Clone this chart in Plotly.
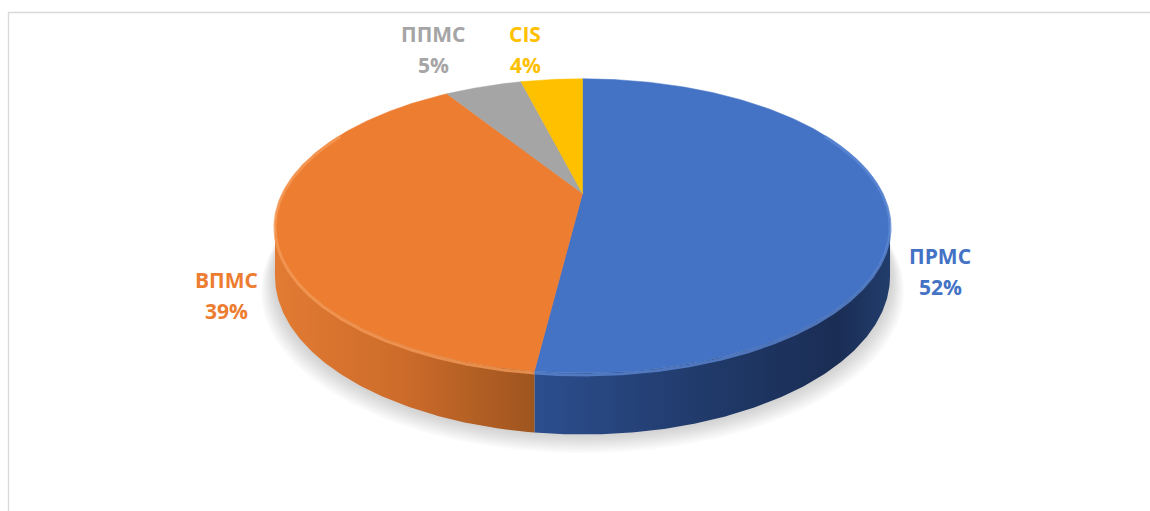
import numpy as np
import plotly.graph_objects as go

# Data
categories = ["ПРМС", "ВПМС", "ППМС", "CIS"]
shares = [52, 39, 5, 4]

# Styling
top_colors = ["#4472C4", "#ED7D31", "#A5A5A5", "#FFC000"]
rim_colors = ["#5B87D3", "#F59A57", "#B8B8B8", "#FFD04D"]
side_scales = [
    [[0, "#2C4E8E"], [0.45, "#213B6C"], [0.85, "#1A2D54"], [1, "#223D6C"]],
    [[0, "#E27B33"], [0.5, "#CC6B2A"], [1, "#9E551F"]],
    [[0, "#7C7C7C"], [1, "#6A6A6A"]],
    [[0, "#BF9000"], [1, "#A67D00"]],
]
label_pos = {  # label centre (x, y of first line) in page pixels
    "ПРМС": (940, 256),
    "ВПМС": (226, 280),
    "ППМС": (433, 34),
    "CIS": (525, 34),
}
LINE_GAP = 31

W, H_PX = 1150, 511

# 3D pie geometry (page pixel space, y pointing down)
CX, CY = 582.5, 193.5     # centre of the top face
A, B = 300.0, 140.0       # ellipse half-axes
K = 0.22                  # perspective strength
DEPTH = 48.0              # thickness of the disc


def proj(theta_deg, z=0.0):
    t = np.radians(theta_deg)
    s = 1.0 / (1.0 + K * np.cos(t))
    x = CX + A * np.sin(t) * s
    y = CY - B * np.cos(t) * s + z * s
    return x, y


def arc(t0, t1, z=0.0, n=None):
    if n is None:
        n = max(int(abs(t1 - t0) * 2) + 2, 4)
    th = np.linspace(t0, t1, n)
    return proj(th, z)


total = float(sum(shares))
bounds = np.concatenate([[0.0], np.cumsum(shares) / total * 360.0])

# front (visible) part of the wall
vis_lo = 180.0 - np.degrees(np.arccos(K))
vis_hi = 180.0 + np.degrees(np.arccos(K))

fig = go.Figure()

# soft shadow below the disc
th_all = np.linspace(0, 360, 361)
for j in range(1, 10):
    xs, ys = proj(th_all, DEPTH + 1.6 * j)
    xs = CX + (xs - CX) * (1 + 0.005 * j)
    fig.add_trace(go.Scatter(
        x=xs, y=ys, mode="lines", fill="toself",
        fillcolor="rgba(90,90,90,0.03)", line=dict(width=0),
        hoverinfo="skip", showlegend=False,
    ))

# side walls
for i, cat in enumerate(categories):
    t0, t1 = bounds[i], bounds[i + 1]
    lo, hi = max(t0, vis_lo), min(t1, vis_hi)
    if hi <= lo:
        continue
    xt, yt = arc(lo, hi, 0.0)
    xb, yb = arc(hi, lo, DEPTH)
    xs = np.concatenate([xt, xb, xt[:1]])
    ys = np.concatenate([yt, yb, yt[:1]])
    fig.add_trace(go.Scatter(
        x=xs, y=ys, mode="lines", fill="toself",
        fillgradient=dict(type="horizontal", colorscale=side_scales[i]),
        line=dict(width=0), hoverinfo="skip", showlegend=False,
    ))

# top faces
for i, cat in enumerate(categories):
    t0, t1 = bounds[i], bounds[i + 1]
    xa, ya = arc(t0, t1, 0.0)
    xs = np.concatenate([[CX], xa, [CX]])
    ys = np.concatenate([[CY], ya, [CY]])
    fig.add_trace(go.Scatter(
        x=xs, y=ys, mode="lines", fill="toself",
        fillcolor=top_colors[i], line=dict(width=0.5, color=top_colors[i]),
        hoverinfo="skip", showlegend=False,
    ))

# bevel highlight on the front rim
for i, cat in enumerate(categories):
    t0, t1 = bounds[i], bounds[i + 1]
    lo, hi = max(t0, vis_lo - 40), min(t1, vis_hi + 40)
    if hi <= lo:
        continue
    xr, yr = arc(lo, hi, 1.5)
    fig.add_trace(go.Scatter(
        x=xr, y=yr, mode="lines", line=dict(width=3, color=rim_colors[i]),
        opacity=0.8, hoverinfo="skip", showlegend=False,
    ))

# labels
for i, cat in enumerate(categories):
    lx, ly = label_pos[cat]
    for k, txt in enumerate([cat, f"{shares[i]}%"]):
        fig.add_annotation(
            x=lx, y=ly + k * LINE_GAP, text=f"<b>{txt}</b>", showarrow=False,
            xanchor="center", yanchor="middle",
            font=dict(family="Open Sans", size=21, color=top_colors[i]),
        )

# chart area border
fig.add_shape(type="rect", x0=8.5, y0=12.5, x1=1160, y1=530,
              line=dict(color="#D9D9D9", width=1.3), layer="above")

fig.update_layout(
    width=W, height=H_PX, margin=dict(l=0, r=0, t=0, b=0),
    paper_bgcolor="white", plot_bgcolor="white",
    xaxis=dict(range=[0, W], visible=False, fixedrange=True),
    yaxis=dict(range=[H_PX, 0], visible=False, fixedrange=True),
    showlegend=False,
)

fig.write_html("out.html")
